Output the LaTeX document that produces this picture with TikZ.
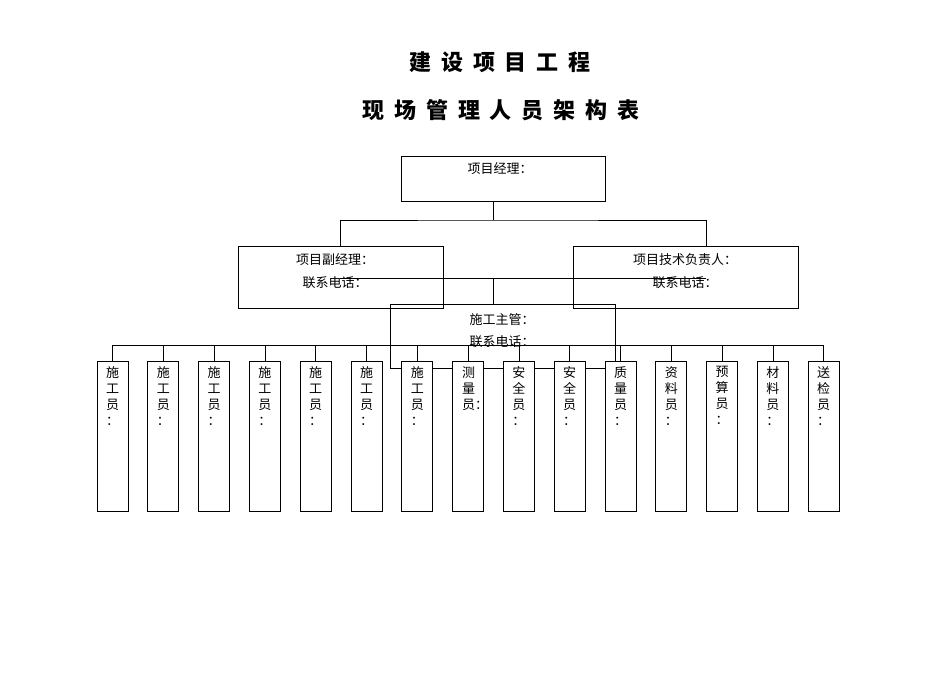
\documentclass[tikz,border=0pt]{standalone}
\usepackage{fontspec}
\setmainfont{Noto Sans CJK SC}
\newcommand{\gp}{\hspace{0.45em}}
\begin{document}
\begin{tikzpicture}[x=1pt,y=-1pt,line width=0.8pt,
  lbl/.style={font=\fontsize{13}{16}\selectfont,inner sep=0pt,anchor=center},
  ttl/.style={font=\fontsize{22}{26}\selectfont\bfseries,inner sep=0pt},
  small/.style={draw,fill=white,minimum width=31pt,minimum height=150pt,inner sep=0pt}]
\useasboundingbox (0,0) rectangle (950,672);
\node[ttl] (t1) at (500,62) {建\gp 设\gp 项\gp 目\gp 工\gp 程};
\node[ttl] (t2) at (501,110) {现\gp 场\gp 管\gp 理\gp 人\gp 员\gp 架\gp 构\gp 表};
% boxes
\node[draw,minimum width=204pt,minimum height=45pt,inner sep=0pt] (pm) at (503,178.5) {};
\node[lbl] at (500,169) {项目经理：};
\node[draw,minimum width=205pt,minimum height=62pt,inner sep=0pt] (dep) at (340.5,277) {};
\node[draw,minimum width=225pt,minimum height=62pt,inner sep=0pt] (tech) at (685.5,277) {};
\node[lbl] at (335,260) {项目副经理：};
\node[lbl] at (335,283) {联系电话：};
\node[lbl] at (685,260) {项目技术负责人：};
\node[lbl] at (685,283) {联系电话：};
\node[draw,minimum width=225pt,minimum height=64pt,inner sep=0pt] (sup) at (502.5,336) {};
\node[lbl] at (502,320) {施工主管：};
\node[lbl] at (502,342) {联系电话：};
% connectors
\coordinate (j1) at (493,220);
\coordinate (j2) at (493,278);
\draw (pm.south -| j1) -- (j1);
\draw (340,246) |- (j1) -| (706,246);
\draw (340,278) -- (706,278);
\draw (j2) -- (j2 |- sup.north);
\draw (112,345) -- (823,345);
% small boxes
\foreach \i/\t in {0/{施\\工\\员\\：},1/{施\\工\\员\\：},2/{施\\工\\员\\：},3/{施\\工\\员\\：},4/{施\\工\\员\\：},5/{施\\工\\员\\：},6/{施\\工\\员\\：},8/{安\\全\\员\\：},9/{安\\全\\员\\：},10/{质\\量\\员\\：},11/{资\\料\\员\\：},12/{预\\算\\员\\：},13/{材\\料\\员\\：},14/{送\\检\\员\\：}}{
  \pgfmathsetmacro{\cx}{112.5+50.8*\i}
  \node[small] (s\i) at (\cx,436) {};
  \draw (\cx,345) -- (s\i.north);
  \node[font=\fontsize{13}{16}\selectfont,align=center,anchor=north,inner sep=0pt] at (\cx,366) {\t};
}
\node[small] (s7) at (468.1,436) {};
\draw (468.1,345) -- (s7.north);
\node[font=\fontsize{13}{16}\selectfont,align=left,anchor=north west,inner sep=0pt] at (461.6,366) {测\\量\\员：};
\end{tikzpicture}
\end{document}
